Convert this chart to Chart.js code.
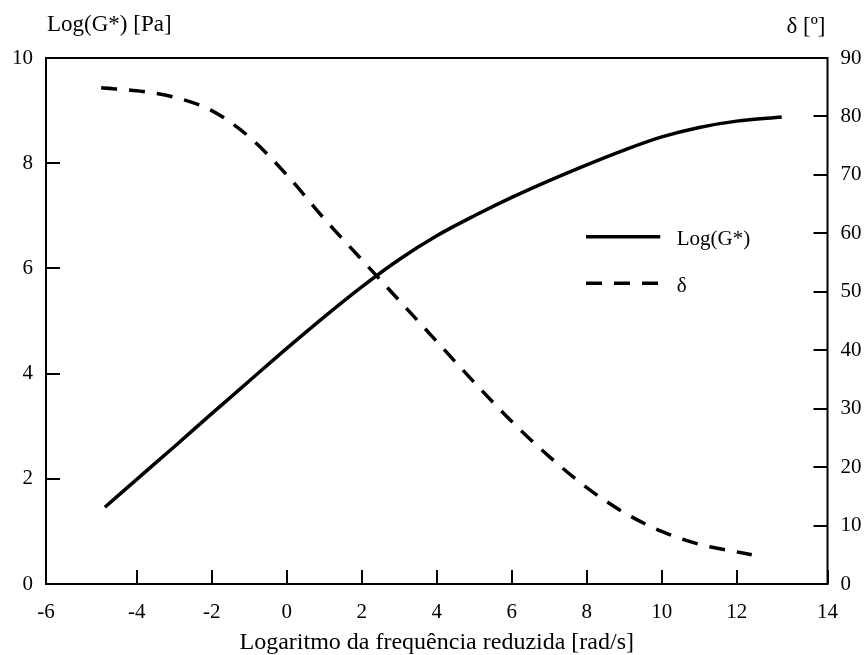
<!DOCTYPE html>
<html>
<head>
<meta charset="utf-8">
<script src="https://cdn.jsdelivr.net/npm/chart.js@4/dist/chart.umd.min.js"></script>
<style>
  body { margin: 0; background: #fff; }
  #wrap { width: 868px; height: 655px; }
</style>
</head>
<body>
<div id="wrap"><canvas id="chart" width="868" height="655"></canvas></div>
<script>
// data
const freqG = [-4.85, -4, -3, -2, -1, 0, 1, 2, 3, 4, 5, 6, 7, 8, 9, 10, 11, 12, 13.2];
const logG = [1.46, 1.99, 2.61, 3.24, 3.86, 4.48, 5.08, 5.65, 6.17, 6.62, 7.0, 7.35, 7.67, 7.97, 8.25, 8.5, 8.68, 8.8, 8.88];

const freqD = [-4.95, -4, -3, -2, -1, 0, 1, 2, 3, 4, 5, 6, 7, 8, 9, 10, 11, 12, 12.4];
const delta = [84.9, 84.4, 83.3, 81.0, 76.5, 70.0, 62.5, 55.5, 48.5, 41.5, 34.5, 27.8, 21.8, 16.5, 12.2, 9.0, 6.8, 5.5, 5.0];

const xTickLabels = [-6, -4, -2, 0, 2, 4, 6, 8, 10, 12, 14];
const seriesNames = ['Log(G*)', 'δ'];
const yLeftTitle = 'Log(G*) [Pa]';
const yRightTitle = 'δ [º]';
const xTitle = 'Logaritmo da frequência reduzida [rad/s]';

const FONT = "'Liberation Serif', 'Times New Roman', serif";

// frame, legend and top titles
const decorations = {
    id: 'decorations',
    afterDraw(chart) {
        const { ctx, chartArea: a } = chart;
        ctx.save();
        ctx.strokeStyle = '#000';
        ctx.lineWidth = 2;
        ctx.strokeRect(a.left, a.top, a.right - a.left, a.bottom - a.top);

        ctx.fillStyle = '#000';
        ctx.font = '23px ' + FONT;
        ctx.textBaseline = 'middle';
        ctx.textAlign = 'left';
        ctx.fillText(yLeftTitle, a.left + 1, 25);
        ctx.textAlign = 'right';
        ctx.fillText(yRightTitle, a.right - 2, 27);

        // legend inside the plot
        const w = a.right - a.left, h = a.bottom - a.top;
        const x0 = a.left + w * 0.691, x1 = a.left + w * 0.786, xt = a.left + w * 0.807;
        const rows = [a.top + h * 0.340, a.top + h * 0.428];
        chart.data.datasets.forEach((ds, i) => {
            ctx.lineWidth = ds.borderWidth;
            ctx.setLineDash(ds.borderDash || []);
            ctx.beginPath();
            ctx.moveTo(x0, rows[i]);
            ctx.lineTo(x1, rows[i]);
            ctx.stroke();
            ctx.setLineDash([]);
            ctx.font = '21px ' + FONT;
            ctx.textAlign = 'left';
            ctx.fillText(ds.label, xt, rows[i] + 3);
        });
        ctx.restore();
    }
};

const tickFont = { family: FONT, size: 21 };

new Chart(document.getElementById('chart'), {
    type: 'line',
    data: {
        datasets: [
            {
                label: seriesNames[0],
                data: freqG.map((x, i) => ({ x: x, y: logG[i] })),
                yAxisID: 'y',
                borderColor: '#000',
                borderWidth: 3.5,
                pointRadius: 0,
                cubicInterpolationMode: 'monotone',
                fill: false
            },
            {
                label: seriesNames[1],
                data: freqD.map((x, i) => ({ x: x, y: delta[i] })),
                yAxisID: 'y2',
                borderColor: '#000',
                borderWidth: 3.5,
                borderDash: [16, 12],
                pointRadius: 0,
                cubicInterpolationMode: 'monotone',
                fill: false
            }
        ]
    },
    options: {
        responsive: false,
        animation: false,
        layout: { padding: { top: 58, left: 0, right: 0, bottom: 0 } },
        plugins: {
            legend: { display: false },
            tooltip: { enabled: false }
        },
        scales: {
            x: {
                type: 'linear',
                min: -6.42,
                max: 14.42,
                afterBuildTicks: scale => {
                    scale.ticks = xTickLabels.map(v => ({
                        value: v === xTickLabels[0] ? scale.min : (v === xTickLabels[xTickLabels.length - 1] ? scale.max : v),
                        label: String(v)
                    }));
                },
                afterFit: scale => { scale.height = 71; },
                ticks: {
                    color: '#000',
                    font: tickFont,
                    padding: 30,
                    maxRotation: 0,
                    autoSkip: false,
                    callback: function (value, index) { return String(xTickLabels[index]); }
                },
                grid: { drawOnChartArea: false, tickLength: -14, color: '#000', lineWidth: 2 },
                border: { display: false },
                title: {
                    display: true,
                    text: xTitle,
                    color: '#000',
                    font: { family: FONT, size: 24, lineHeight: 1 },
                    padding: { top: 0, bottom: 0 }
                }
            },
            y: {
                position: 'left',
                min: 0,
                max: 10,
                afterFit: scale => { scale.width = 46; },
                ticks: { stepSize: 2, color: '#000', font: tickFont, padding: 27 },
                grid: { drawOnChartArea: false, tickLength: -14, color: '#000', lineWidth: 2 },
                border: { display: false }
            },
            y2: {
                position: 'right',
                min: 0,
                max: 90,
                afterFit: scale => { scale.width = 38; },
                ticks: { stepSize: 10, color: '#000', font: tickFont, padding: 27 },
                grid: { drawOnChartArea: false, tickLength: -14, color: '#000', lineWidth: 2 },
                border: { display: false }
            }
        }
    },
    plugins: [decorations]
});
</script>
</body>
</html>
